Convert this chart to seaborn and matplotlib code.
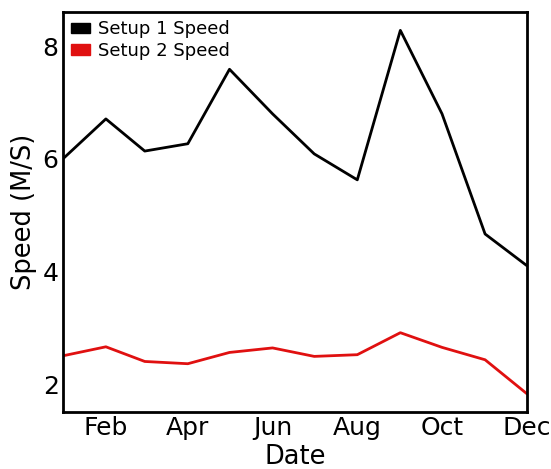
import matplotlib
matplotlib.use("Agg")
import matplotlib.pyplot as plt
import matplotlib.dates as mdates
from matplotlib.patches import Patch
import pandas as pd
import seaborn as sns

months = ["2021-01-01", "2021-02-01", "2021-03-01", "2021-04-01", "2021-05-01", "2021-06-01",
          "2021-07-01", "2021-08-01", "2021-09-01", "2021-10-01", "2021-11-01", "2021-12-01"]
setup1_speed = [6.00, 6.71, 6.14, 6.27, 7.59, 6.80, 6.09, 5.63, 8.28, 6.80, 4.67, 4.11]
setup2_speed = [2.51, 2.67, 2.41, 2.37, 2.57, 2.65, 2.50, 2.53, 2.92, 2.66, 2.44, 1.84]
series_names = ["Setup 1 Speed", "Setup 2 Speed"]
series_colors = ["black", "#e01010"]

dates = pd.to_datetime(months)
df = pd.DataFrame({
    "Date": list(dates) * 2,
    "Speed": setup1_speed + setup2_speed,
    "Series": [series_names[0]] * len(dates) + [series_names[1]] * len(dates),
})

sns.set_style("white")
plt.rcParams["font.family"] = ["DejaVu Sans"]
plt.rcParams["text.color"] = "black"
plt.rcParams["axes.labelcolor"] = "black"
plt.rcParams["xtick.color"] = "black"
plt.rcParams["ytick.color"] = "black"

fig = plt.figure(figsize=(5.51, 4.69), dpi=100)
ax = fig.add_axes([0.114, 0.122, 0.842, 0.852])

sns.lineplot(data=df, x="Date", y="Speed", hue="Series",
             palette=dict(zip(series_names, series_colors)),
             linewidth=2, ax=ax, legend=False)

ax.set_xlim(dates[0], dates[-1])
ax.xaxis.set_major_locator(mdates.MonthLocator(bymonth=[2, 4, 6, 8, 10, 12]))
ax.xaxis.set_major_formatter(mdates.DateFormatter("%b"))
ax.set_yticks([2, 4, 6, 8])

ax.set_xlabel("Date", fontsize=18.5, labelpad=3)
ax.set_ylabel("Speed (M/S)", fontsize=18.5, labelpad=4)
ax.tick_params(axis="both", labelsize=18, length=0, pad=3)

for spine in ax.spines.values():
    spine.set_color("black")
    spine.set_linewidth(2)

handles = [Patch(facecolor=c, edgecolor=c) for c in series_colors]
ax.legend(handles, series_names, loc="upper left", frameon=False, fontsize=13,
          handlelength=1.05, handleheight=0.5, handletextpad=0.45,
          borderaxespad=0.05, labelspacing=0.2)

fig.savefig("out.png", dpi=100)
